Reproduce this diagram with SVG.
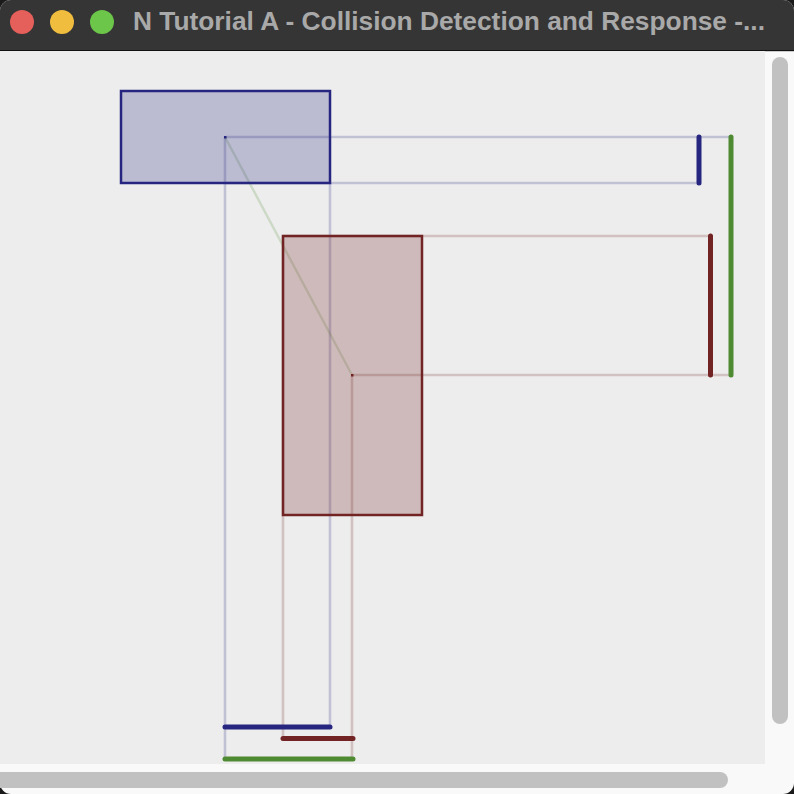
<svg xmlns="http://www.w3.org/2000/svg" width="794" height="794" viewBox="0 0 794 794">
<style>
.proj-b{stroke:#262680;stroke-opacity:0.22;stroke-width:2.6;fill:none}
.proj-r{stroke:#722424;stroke-opacity:0.22;stroke-width:2.6;fill:none}
.iv{stroke-width:5;stroke-linecap:round;fill:none}
</style>
<rect x="0" y="0" width="794" height="794" fill="#1a1a1a"/>
<g id="window">
<rect x="0" y="0" width="794" height="794" rx="11" fill="#f9f9f9"/>
<path d="M0 50 V11 A11 11 0 0 1 11 0 H783 A11 11 0 0 1 794 11 V50 Z" fill="#353535"/>
<rect x="0" y="50" width="794" height="1.2" fill="#111"/>
<rect x="0" y="51" width="765" height="713" fill="#ededed"/>
<rect x="772" y="57" width="16" height="667" rx="8" fill="#c1c1c1"/>
<rect x="-8" y="772" width="736" height="16" rx="8" fill="#c1c1c1"/>
<circle cx="22" cy="22" r="12" fill="#e5605a"/>
<circle cx="62" cy="22" r="12" fill="#f1bd3f"/>
<circle cx="102" cy="22" r="12" fill="#6cc64a"/>
<text x="133" y="30" font-family="Liberation Sans, Arial, sans-serif" font-weight="bold" font-size="25" fill="#a9a9a9" textLength="632" lengthAdjust="spacingAndGlyphs">N Tutorial A - Collision Detection and Response -...</text>
</g>
<g id="connectors">
<line class="proj-b" x1="225" y1="137" x2="730" y2="137"/>
<line class="proj-b" x1="225" y1="183" x2="698" y2="183"/>
<line class="proj-b" x1="225" y1="137" x2="225" y2="758"/>
<line class="proj-b" x1="330" y1="183" x2="330" y2="727"/>
<line class="proj-r" x1="283" y1="236" x2="710" y2="236"/>
<line class="proj-r" x1="352" y1="375" x2="730" y2="375"/>
<line class="proj-r" x1="283" y1="236" x2="283" y2="738"/>
<line class="proj-r" x1="352" y1="375" x2="352" y2="758"/>
<line x1="225" y1="137" x2="352" y2="375" stroke="#4e8a32" stroke-opacity="0.2" stroke-width="2.4"/>
</g>
<g id="box-a">
<rect x="121" y="91" width="209" height="92" fill="#262680" fill-opacity="0.25" stroke="#262680" stroke-width="2.5"/>
<rect x="224" y="136" width="2.5" height="2.5" fill="#262680"/>
</g>
<g id="box-b">
<rect x="283" y="236" width="139" height="279" fill="#722424" fill-opacity="0.25" stroke="#722424" stroke-width="2.5"/>
<rect x="351" y="374" width="2.5" height="2.5" fill="#722424"/>
</g>
<g id="intervals">
<line class="iv" stroke="#262680" x1="699" y1="137" x2="699" y2="183"/>
<line class="iv" stroke="#722424" x1="710.5" y1="236" x2="710.5" y2="375"/>
<line class="iv" stroke="#4e8a32" x1="731" y1="137" x2="731" y2="375"/>
<line class="iv" stroke="#262680" x1="225" y1="727" x2="330" y2="727"/>
<line class="iv" stroke="#722424" x1="283" y1="738.5" x2="353" y2="738.5"/>
<line class="iv" stroke="#4e8a32" x1="225" y1="759" x2="353" y2="759"/>
</g>
</svg>
